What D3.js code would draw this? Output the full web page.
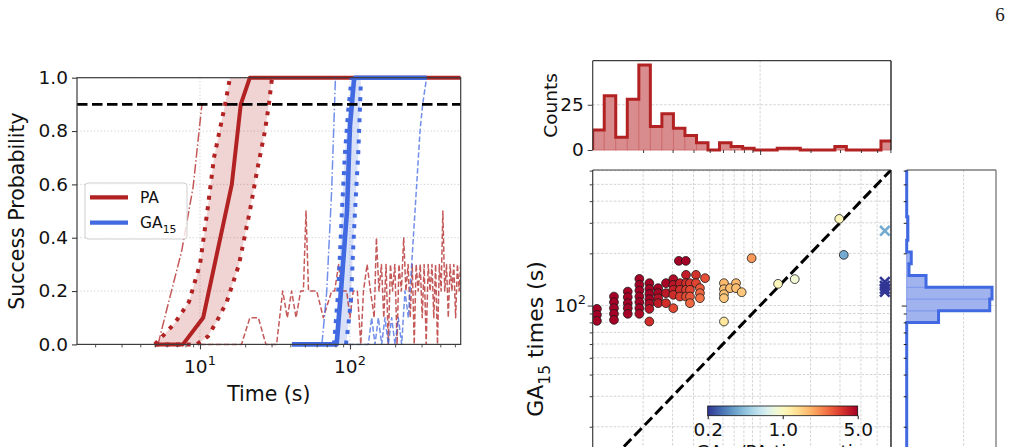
<!DOCTYPE html>
<html><head><meta charset="utf-8">
<script src="https://cdn.jsdelivr.net/npm/d3@7/dist/d3.min.js"></script>
<style>
html,body{margin:0;padding:0;background:#fff;}
svg{display:block;}
</style></head><body>
<svg id="chart" width="1011" height="447" xmlns="http://www.w3.org/2000/svg"></svg>
<script>
// ================= DATA =================
// Left panel: success probability vs time, points are [time (s), probability]
const paMedian = [[5,0],[7.7,0],[10.5,0.1],[16.3,0.6],[18.7,0.9],[21.5,1],[547,1]];
const paFast   = [[5,0],[6.8,0.08],[8.45,0.16],[10,0.3],[11.2,0.5],[12.4,0.7],[14.7,0.9],[15.85,1]];
const paSlow   = [[5,0],[9.5,0],[11.3,0.03],[12.9,0.085],[15.1,0.16],[18.2,0.3],[21.5,0.5],[24,0.65],[27.1,0.8],[28.8,0.9],[30.2,1]];
const paBest   = [[5.25,0],[6.0,0.13],[7.55,0.35],[9.0,0.59],[10.3,0.9]];
const paWorst  = [[10,0],[18.9,0],[21.5,0.1],[24.5,0.1],[27.5,0],[32.4,0],[35.6,0.2],[38.2,0.1],[40.8,0.2],[43.7,0.1],[46.9,0.2],[48.9,0.2],[50.9,0.5],[52.9,0.2],[60,0.2],[66.4,0.1],[75.5,0.2],[79,0.2],[84,0.3],[88,0.2],[95,0.2],[100,0.1],[105,0.2],[112,0.2],[118,0],[123,0.2],[130,0.3],[137,0.2],[145,0.1],[150,0.4],[156,0.2],[162,0.3],[168,0.1],[174,0.3],[180,0],[186,0.3],[192,0.2],[199,0.3],[206,0],[212,0.3],[220,0.2],[228,0.4],[236,0.2],[244,0.3],[252,0.1],[260,0.3],[268,0],[276,0.3],[285,0.2],[294,0.3],[303,0.1],[312,0.3],[322,0],[332,0.3],[342,0.2],[352,0.3],[362,0.1],[372,0.3],[383,0],[394,0.3],[405,0.2],[416,0.5],[428,0.2],[440,0.3],[452,0.1],[465,0.3],[478,0.2],[492,0.3],[506,0.1],[520,0.3],[534,0.2],[547,0.3]];
const gaMedian = [[41,0],[81.5,0],[87.1,0.2],[95.5,0.5],[100,0.82],[106.3,0.99],[108,1],[324,1]];
const gaFast   = [[78.2,0],[83.5,0.2],[88.4,0.5],[92.6,0.72],[97.4,0.88],[102.6,1]];
const gaSlow   = [[94,0],[97.4,0.07],[101.6,0.17],[105.2,0.37],[108,0.5],[113.6,0.72],[116.6,0.89],[118.4,1]];
const gaBest   = [[65,0],[70,0.2],[75.5,0.58],[80,1]];
const gaWorst  = [[97.5,0],[132.5,0],[139.5,0.1],[146.8,0],[154.5,0.1],[162.6,0],[171.1,0.1],[180.1,0],[189.6,0.1],[199.5,0],[210,0.1],[221,0],[232.6,0.2],[244.8,0.1],[257.7,0.3],[271.3,0.5],[293,0.8],[305,0.9],[324,1]];
const targetProb = 0.9;
const leftYTicks = [0,0.2,0.4,0.6,0.8,1.0];
const legendItems = [["PA","#b22222"],["GA","#4169e1"]];

// Right panel: per-instance times [PA time (s), GA15 time (s), (optional) GA15/PA ratio used for colour]
const scatterPts = [
 [10.6,95.7],[10.6,88.4],[10.6,81.6],
 [13.4,112.7],[13.4,104.6],[13.4,96.6],[13.4,89.6],[13.4,82.7],
 [16.2,120.4],[16.2,111.8],[16.2,103.2],[16.2,96.6],[16.2,89.6],
 [19.0,142.5],[19.0,131.6],[19.0,122],[19.0,112.7],[19.0,104.6],[19.0,96.6],[19.0,89.6],
 [21.8,134.6],[21.8,124.8],[21.8,116.7],[21.8,108.9],[21.8,102.3],[21.8,95.7],[21.8,80.9],
 [24.6,126],[24.6,117.9],[24.6,110.3],[24.6,103.2],
 [27.4,134.6],[27.4,117.9],[27.4,103.2],
 [30.3,142],[30.3,131.6],[30.3,123.2],[30.3,115.3],[30.3,96.6],
 [32.7,181],[36.0,181],
 [33.2,134.6],[33.2,123.2],[33.2,112.7],
 [36.1,150.3],[36.1,134.6],[36.1,123.2],[36.1,112.7],
 [38.1,134.6],[38.1,123.2],[38.1,112.7],[38.1,103.2],
 [41.4,150.3],[41.4,134.6],
 [43.7,126],[43.7,117.9],[43.7,110.3],
 [46.9,143.9],
 [60.8,134.6,1.75],[60.8,124.3,1.7],[60.8,116.3,1.65],[60.8,110.3,1.6],[60.8,80.9,1.25],
 [66.1,126,1.7],[71.8,134.6,1.75],[71.8,126,1.7],[77.6,119.4,1.6],
 [89,187.5,2.1],[128,133.4,1.04],[161,142,0.88],[297,316,1.06],[316,196,0.38]
];
const timeoutPA = 556;                         // PA did not finish (drawn at the right edge)
const timeoutGA = [270,137,130,125,120];
const timeoutRatio = [0.38,0.2,0.19,0.18,0.17];
// top histogram (PA times)
const topEdges  = [10,11.72,13.73,16.09,18.86,22.1,25.9,30.35,35.56,41.67,48.84,57.23,67.07,78.6,92.1,107.9,126.5,148.2,173.7,203.5,238.5,279.5,327.5,383.8,449.8,527.1,617.7];
const topCounts = [11,30,7,28,47,13,20,12,8,4,0,4,2,1,0,0,1,1,0,0,0,2,0,0,0,5];
// right histogram (GA15 times)
const rightEdges  = [12.39,14.49,16.94,19.8,23.15,27.07,31.65,37.0,43.27,50.58,59.14,69.14,79.8,93.3,109.1,127.5,149.1,174.3,203.7,238.2,278.5,325.6,380.6,445,520.2,608.2];
const rightCounts = [0,0,0,0,0,0,0,0,0,0,0,0,28,73,75,17,2,4,0,1,1,0,0,0,0];
const topYTicks = [0,25];
const cbTicks = [0.2,1.0,5.0];

// ================= DRAW =================
const svg = d3.select("#chart");
const FF = '"DejaVu Sans", Verdana, sans-serif';
const SP = "#3c3c3c";

function rich(sel, fs, parts){
  let shift = 0;
  parts.forEach(([s,t])=>{
    const target = t==="sub" ? 0.3*fs : t==="sup" ? -0.45*fs : 0;
    const ts = sel.append("tspan").text(s);
    if (t!=="n") ts.attr("font-size", (0.7*fs)+"px");
    if (target-shift!==0) ts.attr("dy", (target-shift)+"px");
    shift = target;
  });
}
function minorLog(lo, hi){
  const out=[];
  for(let e=-2;e<4;e++) for(let k=1;k<10;k++){const v=k*Math.pow(10,e); if(v>=lo&&v<=hi) out.push(v);}
  return out;
}

// ---------- LEFT PANEL ----------
const L = {x0:77, x1:460.7, y0:77.7, y1:344.4};
const xL = d3.scaleLog().domain([1.514,547]).range([L.x0,L.x1]);
const yL = d3.scaleLinear().domain([0,1]).range([L.y1,L.y0]);
const gL = svg.append("g");
svg.append("clipPath").attr("id","clipL").append("rect").attr("x",L.x0).attr("y",0).attr("width",L.x1-L.x0).attr("height",447);

gL.append("g").selectAll("line").data(leftYTicks.filter(v=>v>0)).join("line")
  .attr("x1",L.x0).attr("x2",L.x1).attr("y1",d=>yL(d)).attr("y2",d=>yL(d))
  .attr("stroke","#c8c8c8").attr("stroke-width",0.9).attr("stroke-dasharray","1.2,2.2");
gL.append("g").selectAll("line").data([10,100]).join("line")
  .attr("x1",d=>xL(d)).attr("x2",d=>xL(d)).attr("y1",L.y0).attr("y2",L.y1)
  .attr("stroke","#c8c8c8").attr("stroke-width",0.9).attr("stroke-dasharray","1.2,2.2");

const lineL = d3.line().x(d=>xL(d[0])).y(d=>yL(d[1]));
const plotL = gL.append("g").attr("clip-path","url(#clipL)");
plotL.append("path").attr("d", lineL(paFast.concat(paSlow.slice().reverse()))+"Z").attr("fill","#b22222").attr("fill-opacity",0.2);
plotL.append("path").attr("d", lineL(gaFast.concat(gaSlow.slice().reverse()))+"Z").attr("fill","#4169e1").attr("fill-opacity",0.2);
function drawLine(data, color, lw, dash, op){
  plotL.append("path").attr("d",lineL(data)).attr("fill","none").attr("stroke",color)
    .attr("stroke-width",lw).attr("stroke-dasharray",dash||null).attr("stroke-opacity",op||1)
    .attr("stroke-linejoin","round");
}
drawLine(paWorst,"#b22222",1.5,"5.5,2.4",0.75);
drawLine(paBest,"#b22222",1.5,"9.6,2.4,1.5,2.4",0.75);
drawLine(paFast,"#b22222",4,"4,6.6");
drawLine(paSlow,"#b22222",4,"4,6.6");
drawLine(paMedian,"#b22222",4);
drawLine(gaWorst,"#4169e1",1.5,"5.5,2.4",0.75);
drawLine(gaBest,"#4169e1",1.5,"9.6,2.4,1.5,2.4",0.75);
drawLine(gaFast,"#4169e1",4,"4,6.6");
drawLine(gaSlow,"#4169e1",4,"4,6.6");
drawLine(gaMedian,"#4169e1",4.6);
gL.append("line").attr("x1",L.x0).attr("x2",L.x1).attr("y1",yL(targetProb)).attr("y2",yL(targetProb))
  .attr("stroke","#000").attr("stroke-width",2.8).attr("stroke-dasharray","10.5,4.5");
gL.append("rect").attr("x",L.x0).attr("y",L.y0).attr("width",L.x1-L.x0).attr("height",L.y1-L.y0)
  .attr("fill","none").attr("stroke",SP).attr("stroke-width",1.2);
const axLy = d3.axisLeft(yL).tickValues(leftYTicks).tickSize(5).tickPadding(4).tickFormat(d3.format(".1f"));
const gLy = gL.append("g").attr("transform",`translate(${L.x0},0)`).call(axLy);
gLy.select(".domain").remove();
gLy.selectAll("line").attr("stroke",SP).attr("stroke-width",1.1);
gLy.selectAll("text").attr("font-family",FF).attr("font-size","18.5px").attr("fill","#111");
const gLxm = gL.append("g").attr("transform",`translate(0,${L.y1})`)
  .call(d3.axisBottom(xL).tickValues(minorLog(1.514,547).filter(v=>v!==10&&v!==100)).tickSize(3).tickFormat(""));
gLxm.select(".domain").remove(); gLxm.selectAll("line").attr("stroke",SP).attr("stroke-width",0.9);
const gLx = gL.append("g").attr("transform",`translate(0,${L.y1})`)
  .call(d3.axisBottom(xL).tickValues([10,100]).tickSize(5).tickFormat(""));
gLx.select(".domain").remove(); gLx.selectAll("line").attr("stroke",SP).attr("stroke-width",1.1);
[[10,"1"],[100,"2"]].forEach(([v,e])=>{
  const t = gL.append("text").attr("x",xL(v)).attr("y",373.3).attr("text-anchor","middle")
    .attr("font-family",FF).attr("font-size","18.5px").attr("fill","#111");
  rich(t,18.5,[["10","n"],[e,"sup"]]);
});
gL.append("text").attr("x",(L.x0+L.x1)/2).attr("y",400.5).attr("text-anchor","middle")
  .attr("font-family",FF).attr("font-size","20.5px").attr("fill","#111").text("Time (s)");
gL.append("text").attr("transform",`translate(23.5,${(L.y0+L.y1)/2}) rotate(-90)`).attr("text-anchor","middle")
  .attr("font-family",FF).attr("font-size","20.5px").attr("fill","#111").text("Success Probability");
const lg = gL.append("g");
lg.append("rect").attr("x",85).attr("y",183).attr("width",102).attr("height",56).attr("rx",3)
  .attr("fill","#fff").attr("fill-opacity",0.8).attr("stroke","#cfcfcf").attr("stroke-width",1);
legendItems.forEach(([name,col],i)=>{
  const yy = 197.3 + i*25.4;
  lg.append("line").attr("x1",90).attr("x2",128).attr("y1",yy).attr("y2",yy).attr("stroke",col).attr("stroke-width",4.2);
  const t = lg.append("text").attr("x",140).attr("y",yy+5.4).attr("font-family",FF).attr("font-size","15.5px").attr("fill","#111");
  if(name==="GA") rich(t,15.5,[["GA","n"],["15","sub"]]); else t.text(name);
});

// ---------- RIGHT PANEL ----------
const S = {x0:592.7, x1:891, y0:170, y1:508};
const xs = d3.scaleLog().domain([10,605]).range([S.x0,S.x1]);
const ys = d3.scaleLog().domain([6.8,605]).range([S.y1,S.y0]);
const cmap = t => d3.interpolateRdYlBu(1-t);
const cnorm = d3.scaleLog().domain([0.2,5]).range([0,1]).clamp(true);
const ratioOf = d => d.length>2 ? d[2] : d[1]/d[0];
const gS = svg.append("g");
svg.append("clipPath").attr("id","clipS").append("rect").attr("x",S.x0).attr("y",S.y0).attr("width",S.x1-S.x0).attr("height",S.y1-S.y0);
const grid = "#cfcfcf";
const xsGrid = minorLog(10,605).filter(v=>v>10);
const ysGrid = minorLog(6.8,605);
gS.append("g").selectAll("line").data(xsGrid).join("line")
  .attr("x1",d=>xs(d)).attr("x2",d=>xs(d)).attr("y1",S.y0).attr("y2",S.y1)
  .attr("stroke",grid).attr("stroke-width",0.9).attr("stroke-dasharray","2.6,1.6");
gS.append("g").selectAll("line").data(ysGrid).join("line")
  .attr("x1",S.x0).attr("x2",S.x1).attr("y1",d=>ys(d)).attr("y2",d=>ys(d))
  .attr("stroke",grid).attr("stroke-width",0.9).attr("stroke-dasharray","2.6,1.6");
const plotS = gS.append("g").attr("clip-path","url(#clipS)");
plotS.append("line").attr("x1",xs(10)).attr("y1",ys(10)).attr("x2",xs(605)).attr("y2",ys(605))
  .attr("stroke","#000").attr("stroke-width",3).attr("stroke-dasharray","10.5,4.5");
plotS.append("g").selectAll("circle").data(scatterPts).join("circle")
  .attr("cx",d=>xs(d[0])).attr("cy",d=>ys(d[1])).attr("r",4.4)
  .attr("fill",d=>cmap(cnorm(ratioOf(d)))).attr("stroke","#1a1a1a").attr("stroke-width",0.8);
const xm = plotS.append("g").selectAll("g").data(timeoutGA.map((g,i)=>[g,timeoutRatio[i]])).join("g")
  .attr("transform",d=>`translate(${xs(timeoutPA)},${ys(d[0])})`)
  .attr("stroke",d=>cmap(cnorm(d[1]))).attr("stroke-width",2.6);
xm.append("line").attr("x1",-4.8).attr("y1",-4.8).attr("x2",4.8).attr("y2",4.8);
xm.append("line").attr("x1",-4.8).attr("y1",4.8).attr("x2",4.8).attr("y2",-4.8);
// colorbar
const cb = {x0:707.7,x1:857.7,y0:406,y1:415.7};
const cx = d3.scaleLog().domain([0.2,5]).range([cb.x0,cb.x1]);
const grad = svg.append("defs").append("linearGradient").attr("id","cbg").attr("x1","0%").attr("x2","100%");
d3.range(0,1.0001,0.05).forEach(t=>grad.append("stop").attr("offset",(t*100)+"%").attr("stop-color",cmap(t)));
gS.append("rect").attr("x",cb.x0).attr("y",cb.y0).attr("width",cb.x1-cb.x0).attr("height",cb.y1-cb.y0)
  .attr("fill","url(#cbg)").attr("stroke","#111").attr("stroke-width",0.8);
const gcb = gS.append("g").attr("transform",`translate(0,${cb.y1})`)
  .call(d3.axisBottom(cx).tickValues(cbTicks).tickSize(3.5).tickPadding(4).tickFormat(d3.format(".1f")));
gcb.select(".domain").remove(); gcb.selectAll("line").attr("stroke","#111");
gcb.selectAll("text").attr("font-family",FF).attr("font-size","18.5px").attr("fill","#111").attr("dy","0.71em");
{ const t = gS.append("text").attr("x",780).attr("y",457.8).attr("text-anchor","middle")
    .attr("font-family",FF).attr("font-size","18.5px").attr("fill","#111");
  rich(t,18.5,[["GA","n"],["15","sub"],["/PA time ratio","n"]]); }
gS.append("line").attr("x1",S.x0).attr("x2",S.x1).attr("y1",S.y0).attr("y2",S.y0).attr("stroke",SP).attr("stroke-width",1.2);
gS.append("line").attr("x1",S.x0).attr("x2",S.x0).attr("y1",S.y0).attr("y2",S.y1).attr("stroke",SP).attr("stroke-width",1.2);
gS.append("line").attr("x1",S.x1).attr("x2",S.x1).attr("y1",S.y0).attr("y2",S.y1).attr("stroke","#111").attr("stroke-width",1.3);
const gSym = gS.append("g").attr("transform",`translate(${S.x0},0)`)
  .call(d3.axisLeft(ys).tickValues(ysGrid.filter(v=>v!==100)).tickSize(3).tickFormat(""));
gSym.select(".domain").remove(); gSym.selectAll("line").attr("stroke",SP);
const gSy = gS.append("g").attr("transform",`translate(${S.x0},0)`)
  .call(d3.axisLeft(ys).tickValues([100]).tickSize(5).tickFormat(""));
gSy.select(".domain").remove(); gSy.selectAll("line").attr("stroke",SP);
{ const t = gS.append("text").attr("x",586).attr("y",ys(100)+6.6).attr("text-anchor","end")
    .attr("font-family",FF).attr("font-size","18.5px").attr("fill","#111");
  rich(t,18.5,[["10","n"],["2","sup"]]); }
{ const t = gS.append("text").attr("transform",`translate(543,${(S.y0+S.y1)/2}) rotate(-90)`).attr("text-anchor","middle")
    .attr("font-family",FF).attr("font-size","22px").attr("fill","#111");
  rich(t,22,[["GA","n"],["15","sub"],[" times (s)","n"]]); }

// ---------- TOP HISTOGRAM ----------
const T = {y0:60.7, y1:150};
const yh = d3.scaleLinear().domain([0,49.35]).range([T.y1,T.y0]);
const gT = svg.append("g");
svg.append("clipPath").attr("id","clipT").append("rect").attr("x",S.x0).attr("y",0).attr("width",S.x1-S.x0).attr("height",T.y1+3);
gT.append("line").attr("x1",S.x0).attr("x2",S.x1).attr("y1",yh(25)).attr("y2",yh(25)).attr("stroke",grid).attr("stroke-width",0.9).attr("stroke-dasharray","2.6,1.6");
gT.append("line").attr("x1",xs(100)).attr("x2",xs(100)).attr("y1",T.y0).attr("y2",T.y1).attr("stroke",grid).attr("stroke-width",0.9).attr("stroke-dasharray","2.6,1.6");
const pT = gT.append("g").attr("clip-path","url(#clipT)");
pT.append("g").selectAll("rect").data(topCounts.map((c,i)=>({c,a:topEdges[i],b:topEdges[i+1]})).filter(d=>d.c>0)).join("rect")
  .attr("x",d=>xs(d.a)).attr("width",d=>xs(d.b)-xs(d.a)).attr("y",d=>yh(d.c)).attr("height",d=>yh(0)-yh(d.c))
  .attr("fill","#d88c8e").attr("stroke","#cf6a6c").attr("stroke-width",0.9);
const stepT = [[topEdges[0],0]];
topCounts.forEach((c,i)=>{stepT.push([topEdges[i],c]); stepT.push([topEdges[i+1],c]);});
stepT.push([topEdges[topEdges.length-1],0]);
pT.append("path").attr("d",d3.line().x(d=>xs(d[0])).y(d=>yh(d[1]))(stepT))
  .attr("fill","none").attr("stroke","#b22222").attr("stroke-width",3).attr("stroke-linejoin","miter");
gT.append("line").attr("x1",S.x0).attr("x2",S.x1).attr("y1",T.y0).attr("y2",T.y0).attr("stroke",SP).attr("stroke-width",1.2);
gT.append("line").attr("x1",S.x0).attr("x2",S.x0).attr("y1",T.y0).attr("y2",T.y1).attr("stroke",SP).attr("stroke-width",1.2);
gT.append("line").attr("x1",S.x1).attr("x2",S.x1).attr("y1",T.y0).attr("y2",T.y1).attr("stroke","#111").attr("stroke-width",1.3);
const gTy = gT.append("g").attr("transform",`translate(${S.x0},0)`)
  .call(d3.axisLeft(yh).tickValues(topYTicks).tickSize(5).tickPadding(4).tickFormat(d3.format("d")));
gTy.select(".domain").remove(); gTy.selectAll("line").attr("stroke",SP);
gTy.selectAll("text").attr("font-family",FF).attr("font-size","18.5px").attr("fill","#111");
const gTxm = gT.append("g").attr("transform",`translate(0,${T.y1})`)
  .call(d3.axisBottom(xs).tickValues(xsGrid.filter(v=>v!==100)).tickSize(3).tickFormat(""));
gTxm.select(".domain").remove(); gTxm.selectAll("line").attr("stroke",SP);
const gTx = gT.append("g").attr("transform",`translate(0,${T.y1})`)
  .call(d3.axisBottom(xs).tickValues([100]).tickSize(5).tickFormat(""));
gTx.select(".domain").remove(); gTx.selectAll("line").attr("stroke",SP);
gT.append("text").attr("transform",`translate(557,${(T.y0+T.y1)/2}) rotate(-90)`).attr("text-anchor","middle")
  .attr("font-family",FF).attr("font-size","18.5px").attr("fill","#111").text("Counts");

// ---------- RIGHT HISTOGRAM ----------
const R = {x0:906.7, x1:996};
const xh = d3.scaleLinear().domain([0,78.5]).range([R.x0,R.x1]);
const gR = svg.append("g");
svg.append("clipPath").attr("id","clipR").append("rect").attr("x",R.x0-3).attr("y",S.y0).attr("width",R.x1-R.x0+3).attr("height",S.y1-S.y0);
gR.append("line").attr("x1",xh(50)).attr("x2",xh(50)).attr("y1",S.y0).attr("y2",S.y1).attr("stroke",grid).attr("stroke-width",0.9).attr("stroke-dasharray","2.6,1.6");
gR.append("line").attr("x1",R.x0).attr("x2",R.x1).attr("y1",ys(100)).attr("y2",ys(100)).attr("stroke",grid).attr("stroke-width",0.9).attr("stroke-dasharray","2.6,1.6");
const pR = gR.append("g").attr("clip-path","url(#clipR)");
pR.append("g").selectAll("rect").data(rightCounts.map((c,i)=>({c,a:rightEdges[i],b:rightEdges[i+1]})).filter(d=>d.c>0)).join("rect")
  .attr("y",d=>ys(d.b)).attr("height",d=>ys(d.a)-ys(d.b)).attr("x",xh(0)).attr("width",d=>xh(d.c)-xh(0))
  .attr("fill","#a0b3ef").attr("stroke","#7d97ea").attr("stroke-width",0.9);
gR.append("line").attr("x1",R.x0).attr("x2",R.x1).attr("y1",S.y0).attr("y2",S.y0).attr("stroke",SP).attr("stroke-width",1.2);
gR.append("line").attr("x1",R.x1).attr("x2",R.x1).attr("y1",S.y0).attr("y2",S.y1).attr("stroke","#777").attr("stroke-width",1.3);
const stepR = [[0,rightEdges[0]]];
rightCounts.forEach((c,i)=>{stepR.push([c,rightEdges[i]]); stepR.push([c,rightEdges[i+1]]);});
stepR.push([0,rightEdges[rightEdges.length-1]]);
pR.append("path").attr("d",d3.line().x(d=>xh(d[0])).y(d=>ys(d[1]))(stepR))
  .attr("fill","none").attr("stroke","#4169e1").attr("stroke-width",3);
const gRym = gR.append("g").attr("transform",`translate(${R.x0},0)`)
  .call(d3.axisLeft(ys).tickValues(ysGrid.filter(v=>v!==100)).tickSize(3).tickFormat(""));
gRym.select(".domain").remove(); gRym.selectAll("line").attr("stroke","#222");
const gRy = gR.append("g").attr("transform",`translate(${R.x0},0)`)
  .call(d3.axisLeft(ys).tickValues([100]).tickSize(5).tickFormat(""));
gRy.select(".domain").remove(); gRy.selectAll("line").attr("stroke","#222");

svg.append("text").attr("x",1000).attr("y",20.7).attr("text-anchor","middle")
  .attr("font-family",'"Liberation Serif", "DejaVu Serif", serif').attr("font-size","19px").attr("fill","#222").text("6");
</script>
</body></html>
